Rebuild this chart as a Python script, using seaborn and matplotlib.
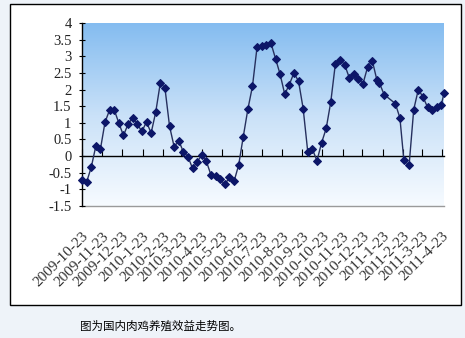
import numpy as np
import pandas as pd
import matplotlib
matplotlib.use("Agg")
import matplotlib.pyplot as plt
import matplotlib.dates as mdates
from matplotlib.colors import LinearSegmentedColormap
from matplotlib.patches import Rectangle
import seaborn as sns

# Weekly broiler farming profit (元/只)
dates = [
    "2009-10-23", "2009-10-30", "2009-11-06", "2009-11-13", "2009-11-20", "2009-11-27",
    "2009-12-04", "2009-12-11", "2009-12-18", "2009-12-25", "2010-01-01", "2010-01-08",
    "2010-01-15", "2010-01-22", "2010-01-29", "2010-02-05", "2010-02-12", "2010-02-19",
    "2010-02-26", "2010-03-05", "2010-03-12", "2010-03-19", "2010-03-26", "2010-04-02",
    "2010-04-09", "2010-04-16", "2010-04-23", "2010-04-30", "2010-05-07", "2010-05-14",
    "2010-05-21", "2010-05-28", "2010-06-04", "2010-06-11", "2010-06-18", "2010-06-25",
    "2010-07-02", "2010-07-09", "2010-07-16", "2010-07-23", "2010-07-30", "2010-08-06",
    "2010-08-13", "2010-08-20", "2010-08-27", "2010-09-03", "2010-09-10", "2010-09-17",
    "2010-09-24", "2010-10-01", "2010-10-08", "2010-10-15", "2010-10-22", "2010-10-29",
    "2010-11-05", "2010-11-12", "2010-11-19", "2010-11-26", "2010-12-03", "2010-12-10",
    "2010-12-17", "2010-12-24", "2010-12-31", "2011-01-07", "2011-01-14", "2011-01-18",
    "2011-01-25", "2011-02-11", "2011-02-18", "2011-02-24", "2011-03-04", "2011-03-11",
    "2011-03-18", "2011-03-25", "2011-04-01", "2011-04-08", "2011-04-15", "2011-04-22",
    "2011-04-26",
]
profit = [
    -0.73, -0.78, -0.34, 0.30, 0.21, 1.02, 1.39, 1.39, 0.99, 0.62, 0.96, 1.15,
    0.96, 0.74, 1.03, 0.69, 1.32, 2.20, 2.05, 0.90, 0.28, 0.46, 0.13, -0.02,
    -0.37, -0.17, 0.03, -0.16, -0.57, -0.60, -0.70, -0.85, -0.64, -0.76, -0.27, 0.58,
    1.41, 2.10, 3.28, 3.31, 3.35, 3.40, 2.93, 2.46, 1.86, 2.15, 2.50, 2.25,
    1.43, 0.13, 0.21, -0.14, 0.40, 0.83, 1.63, 2.78, 2.90, 2.75, 2.36, 2.47,
    2.32, 2.18, 2.68, 2.87, 2.29, 2.19, 1.85, 1.58, 1.15, -0.12, -0.27, 1.40,
    2.00, 1.78, 1.47, 1.39, 1.48, 1.55, 1.89,
]
tick_dates = pd.date_range("2009-10-23", "2011-04-23", freq=pd.DateOffset(months=1))
tick_labels = [f"{d.year}-{d.month}-{d.day}" for d in tick_dates]
y_ticks = [-1.5, -1, -0.5, 0, 0.5, 1, 1.5, 2, 2.5, 3, 3.5, 4]
caption = "图为国内肉鸡养殖效益走势图。"

df = pd.DataFrame({"date": pd.to_datetime(dates), "profit": profit})

W, H = 465, 338
fig = plt.figure(figsize=(W / 100, H / 100), dpi=100, facecolor="#eef3f9")

# white framed panel holding the chart
fig.patches.append(Rectangle((9.5 / W, 1 - 305 / H), 451 / W, 301 / H,
                             transform=fig.transFigure, facecolor="white",
                             edgecolor="black", linewidth=1.0, zorder=-1))

ax = fig.add_axes([82 / W, 1 - 206 / H, 362 / W, 183 / H])
ax.set_facecolor("none")
ax.set_zorder(2)

x0 = mdates.date2num(pd.Timestamp("2009-10-23"))
x1 = mdates.date2num(pd.Timestamp("2011-04-26"))
ymin, ymax = -1.5, 4

# vertical gradient background: sky blue at the top fading to white
cmap = LinearSegmentedColormap.from_list("sky", ["#84bcf0", "#c9e1f8", "#f7fbff"])
grad = np.linspace(0, 1, 256).reshape(-1, 1)
ax.imshow(grad, extent=[x0, x1, ymin, ymax], aspect="auto", cmap=cmap,
          origin="upper", zorder=0)

sns.lineplot(data=df, x="date", y="profit", ax=ax, color="#26305e", linewidth=1.0,
             marker="D", markersize=4.0, markerfacecolor="#0c1668",
             markeredgecolor="#0c1668", zorder=3, clip_on=False)

ax.set_xlim(x0, x1)
ax.set_ylim(ymin, ymax)
ax.set_xlabel("")
ax.set_ylabel("")

# y axis
ax.set_yticks(y_ticks)
ax.set_yticklabels([f"{v:g}" for v in y_ticks], fontfamily="Liberation Serif",
                   fontsize=10.5, color="#222222")
ax.tick_params(axis="y", direction="inout", length=5, width=0.8, pad=5, color="black")

# x axis line at zero with upward ticks
ax.spines["bottom"].set_position(("data", 0))
ax.spines["bottom"].set_color("black")
ax.spines["bottom"].set_linewidth(1.0)
ax.spines["left"].set_color("black")
ax.spines["left"].set_linewidth(1.0)
ax.spines["top"].set_visible(False)
ax.spines["right"].set_visible(False)
ax.set_xticks(tick_dates)
ax.tick_params(axis="x", direction="in", length=5, width=0.8, labelbottom=False,
               color="black")

# date labels along the lower edge of the plot area
sec = ax.secondary_xaxis("bottom")
sec.set_xticks(tick_dates)
sec.set_xticklabels(tick_labels, rotation=45, ha="right", va="top",
                    rotation_mode="anchor", fontfamily="Liberation Serif",
                    fontsize=11, color="#333333")
sec.tick_params(axis="x", length=0, pad=17)
sec.spines["bottom"].set_color("#9a9a9a")
sec.spines["bottom"].set_linewidth(1.0)

fig.text(160 / W, 1 - 326 / H, caption, ha="center", va="center", fontsize=8.3,
         fontfamily=["Noto Sans CJK SC", "DejaVu Sans"], color="black")

fig.savefig("out.png", dpi=100, facecolor=fig.get_facecolor())
